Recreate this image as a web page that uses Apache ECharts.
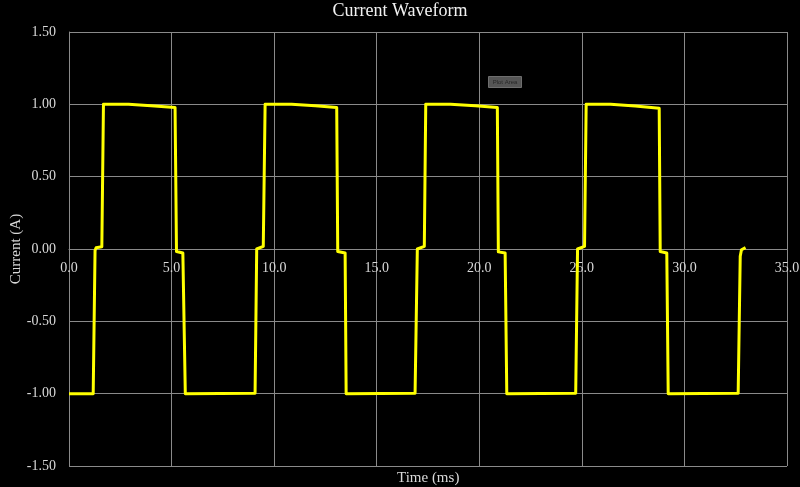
<!DOCTYPE html>
<html>
<head>
<meta charset="utf-8">
<script src="https://cdn.jsdelivr.net/npm/echarts@6/dist/echarts.min.js"></script>
<style>
html,body{margin:0;padding:0;background:#000;}
#chart{width:800px;height:487px;}
</style>
</head>
<body>
<div id="chart"></div>
<script>
// Data
const timeMs = [
  0, 1.18, 1.27, 1.32, 1.60, 1.68, 2.90, 4.00, 5.17, 5.24, 5.55, 5.67,
  9.07, 9.15, 9.20, 9.47, 9.56, 10.85, 12.00, 13.05, 13.10, 13.46, 13.51,
  16.87, 16.98, 17.03, 17.32, 17.39, 18.60, 19.80, 20.88, 20.93, 21.26, 21.34,
  24.70, 24.79, 24.84, 25.13, 25.21, 26.40, 27.60, 28.77, 28.82, 29.14, 29.21,
  32.62, 32.72, 32.78, 32.85, 32.98
];
const currentA = [
  -1.0, -1.0, -0.01, 0.008, 0.015, 1.0, 1.0, 0.99, 0.978, -0.017, -0.028, -1.0,
  -0.997, 0.0, 0.008, 0.018, 1.0, 1.0, 0.99, 0.978, -0.017, -0.028, -1.0,
  -0.997, 0.0, 0.008, 0.018, 1.0, 1.0, 0.99, 0.978, -0.02, -0.028, -1.0,
  -0.997, 0.0, 0.008, 0.018, 1.0, 1.0, 0.988, 0.973, -0.017, -0.028, -1.0,
  -0.997, -0.05, -0.005, 0.008, 0.01
];
const chartTitle = 'Current Waveform';
const xName = 'Time (ms)';
const yName = 'Current (A)';
const yMin = -1.5, yMax = 1.5;

const points = timeMs.map((t, i) => [t, currentA[i]]);
const serif = '"Liberation Serif", "Times New Roman", serif';
const gridColor = '#8a8a8a';
const textColor = '#d9d9d9';

const chart = echarts.init(document.getElementById('chart'));
chart.setOption({
  backgroundColor: '#000000',
  animation: false,
  title: {
    text: chartTitle,
    left: 'center',
    top: -3,
    textStyle: {color: '#f2f2f2', fontFamily: serif, fontSize: 18, fontWeight: 'normal'}
  },
  grid: {left: 69, right: 13, top: 32, bottom: 21, containLabel: false, outerBoundsMode: 'none'},
  xAxis: {
    type: 'value', min: 0, max: 35, interval: 5,
    axisLine: {show: true, onZero: true, lineStyle: {color: gridColor, width: 1}},
    axisTick: {show: false},
    axisLabel: {color: textColor, fontFamily: serif, fontSize: 14, margin: 12,
      formatter: v => v.toFixed(1)},
    splitLine: {show: true, lineStyle: {color: gridColor, width: 1}}
  },
  yAxis: {
    type: 'value', min: yMin, max: yMax, interval: 0.5,
    name: yName, nameLocation: 'middle', nameGap: 45, nameMoveOverlap: false,
    nameTextStyle: {color: textColor, fontFamily: serif, fontSize: 15},
    axisLine: {show: true, onZero: false, lineStyle: {color: gridColor, width: 1}},
    axisTick: {show: false},
    axisLabel: {color: textColor, fontFamily: serif, fontSize: 14, margin: 13,
      formatter: v => v.toFixed(2)},
    splitLine: {show: true, lineStyle: {color: gridColor, width: 1}}
  },
  graphic: [{
    type: 'text', left: 397, top: 471,
    style: {text: xName, fill: textColor, fontSize: 15, fontFamily: serif}
  }, {
    type: 'group', left: 488, top: 76,
    children: [
      {type: 'rect', shape: {x: 0, y: 0, width: 33, height: 11},
        style: {fill: '#555555', stroke: '#6e6e6e', lineWidth: 1}},
      {type: 'text', x: 16.5, y: 5.5,
        style: {text: 'Plot Area', fill: '#262626', fontSize: 6, fontFamily: 'Liberation Sans, sans-serif',
          align: 'center', verticalAlign: 'middle'}}
    ]
  }],
  series: [{
    type: 'line', data: points,
    showSymbol: false, smooth: false,
    lineStyle: {color: '#ffff00', width: 3, join: 'round'},
    itemStyle: {color: '#ffff00'}
  }]
});
// Place the x axis (line + labels) on the y = 0 line, as in the reference
const yZeroPx = chart.convertToPixel({yAxisIndex: 0}, 0);
const yBottomPx = chart.convertToPixel({yAxisIndex: 0}, yMin);
chart.setOption({xAxis: {axisLine: {onZero: false}, offset: yZeroPx - yBottomPx}});
</script>
</body>
</html>
